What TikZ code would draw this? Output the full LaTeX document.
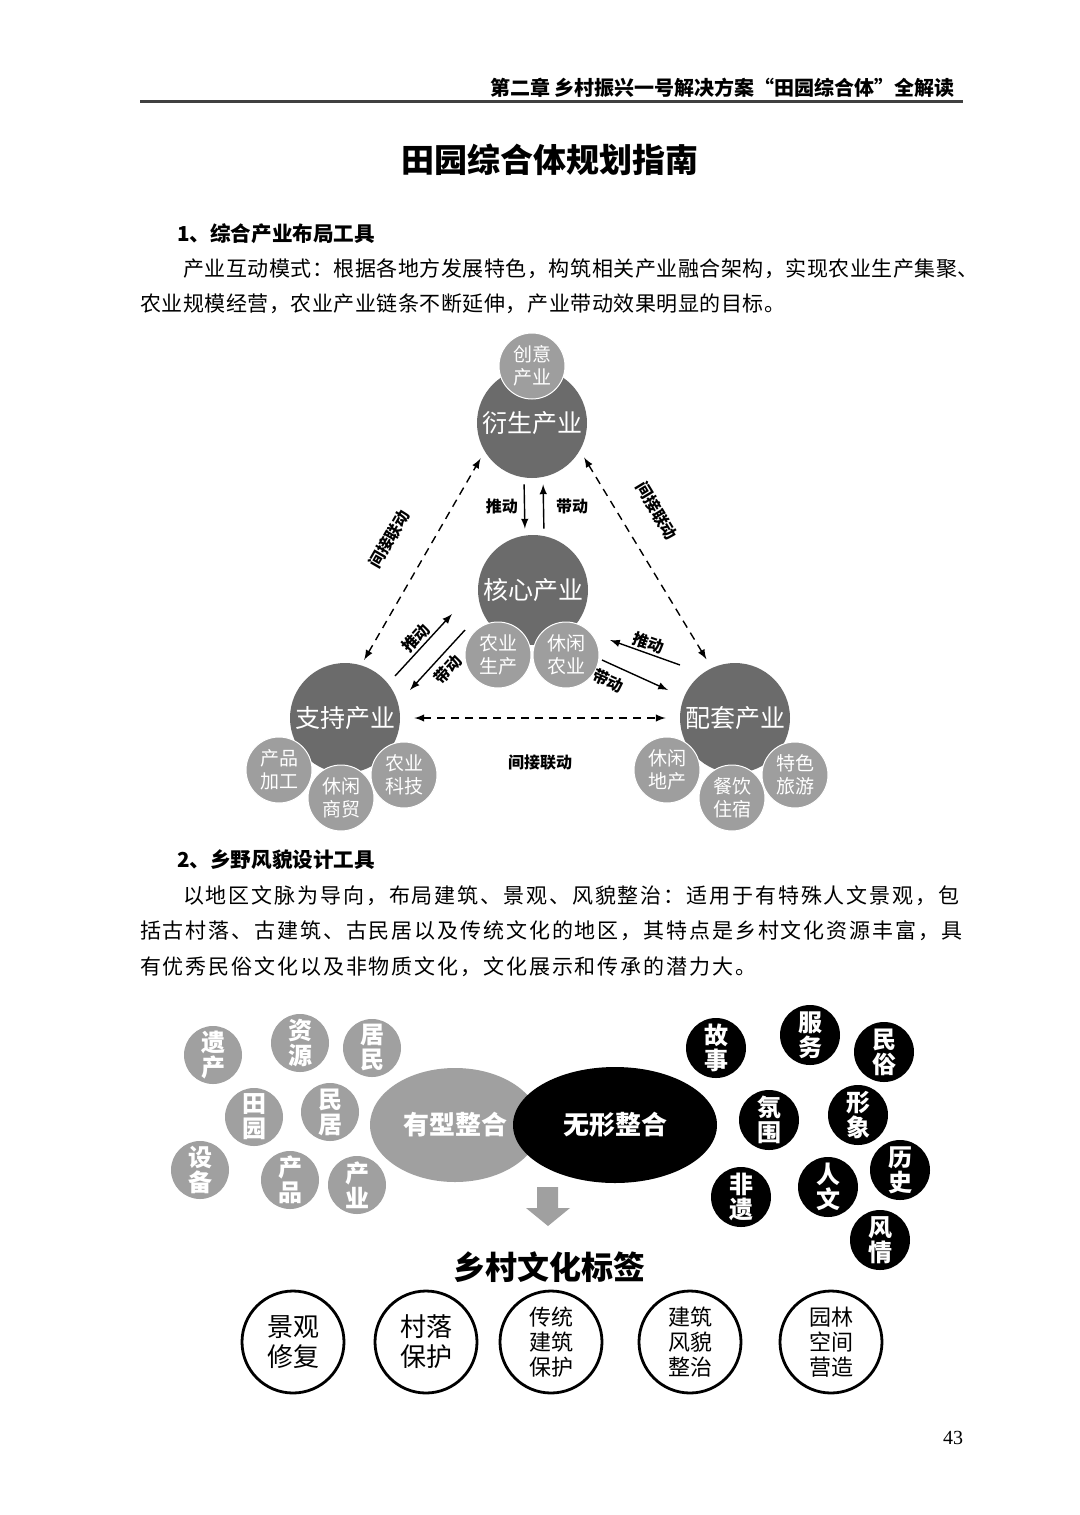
\documentclass[tikz,border=0pt]{standalone}
\usepackage{fontspec}
\setmainfont{Noto Sans CJK SC}
\newfontfamily\bodyA[LetterSpace=2.5]{Noto Sans CJK SC}
\newfontfamily\bodyB[LetterSpace=9]{Noto Sans CJK SC}
\newfontfamily\numfont{Liberation Serif}
\usepackage{tikz}
\usetikzlibrary{positioning, arrows.meta, shapes.geometric}
\definecolor{bigc}{HTML}{6B6B6B}
\definecolor{smallc}{HTML}{9E9E9E}
\definecolor{tagg}{HTML}{A0A0A0}
\newcommand{\fsz}[2]{\fontsize{#1}{#2}\selectfont}

\begin{document}
\begin{tikzpicture}[x=0.5pt, y=-0.5pt, >=latex]
    % Stili
    \tikzstyle{big} = [circle, fill=bigc, minimum size=55pt, inner sep=0pt, text=white, font=\fsz{12.5}{14}]
    \tikzstyle{small} = [circle, fill=smallc, draw=white, line width=0.5pt, minimum size=33pt, inner sep=0pt, text=white, align=center, font=\fsz{9.5}{11.5}]
    \tikzstyle{lab} = [font=\bfseries\fsz{8}{9}, inner sep=1pt]
    \tikzstyle{ell} = [ellipse, minimum width=85pt, minimum height=57pt, inner sep=0pt, text=white, font=\bfseries\fsz{13}{14}]
    \tikzstyle{gdot} = [circle, fill=tagg, minimum size=29pt, inner sep=0pt, text=white, align=center, font=\bfseries\fsz{12}{12.5}]
    \tikzstyle{bdot} = [circle, fill=black, minimum size=30pt, inner sep=0pt, text=white, align=center, font=\bfseries\fsz{12}{12.5}]
    \tikzstyle{tag} = [circle, draw, line width=1.4pt, minimum size=51pt, inner sep=0pt, align=center]

    \fill[white] (0,0) rectangle (1080,1515);
    \useasboundingbox (0,0) rectangle (1080,1515);

    % Testata
    \node[anchor=east, font=\bfseries\fsz{10}{12}] (header) at (962,88) {第二章\ 乡村振兴一号解决方案“田园综合体”全解读};
    \draw[line width=1.5pt, black!75] (140,101) -- (963,101);
    \node[font=\bfseries\fsz{16.5}{18}] (title) at (550,160) {田园综合体规划指南};

    % Testo 1
    \node[anchor=west, font=\bfseries\fsz{10.3}{12}] (sec1) at (170,234) {1、综合产业布局工具};
    \node[anchor=west, font=\bodyA\fsz{10.5}{12}] (p1a) at (176,269) {产业互动模式：根据各地方发展特色，构筑相关产业融合架构，实现农业生产集聚、};
    \node[anchor=west, font=\bodyA\fsz{10.5}{12}] (p1b) at (133,304) {农业规模经营，农业产业链条不断延伸，产业带动效果明显的目标。};

    % Cerchi
    \node[big] (yansheng) at (532,423) {衍生产业};
    \node[small] (chuangyi) at (532,366) {创意\\产业};
    \node[big] (hexin) at (533,590) {核心产业};
    \node[small] (nongye) at (498,655) {农业\\生产};
    \node[small] (xiuxian) at (566,655) {休闲\\农业};
    \node[big] (zhichi) at (345,718) {支持产业};
    \node[small] (jiagong) at (279,770) {产品\\加工};
    \node[small] (shangmao) at (341,798) {休闲\\商贸};
    \node[small] (keji) at (404,775) {农业\\科技};
    \node[big] (peitao) at (735,718) {配套产业};
    \node[small] (dichan) at (667,770) {休闲\\地产};
    \node[small] (zhusu) at (732,798) {餐饮\\住宿};
    \node[small] (lvyou) at (795,775) {特色\\旅游};

    % Collegamenti
    \draw[->, line width=0.7pt, shorten <=3pt, shorten >=3pt] ([xshift=-4pt]yansheng.south) -- node[left=2pt, lab] {推动} ([xshift=-4pt]hexin.north);
    \draw[<-, line width=0.7pt, shorten <=3pt, shorten >=3pt] ([xshift=5.5pt]yansheng.south) -- node[right=5pt, lab] {带动} ([xshift=5.5pt]hexin.north);

    \draw[<->, dashed, dash pattern=on 4pt off 3pt, line width=0.7pt, shorten <=3pt, shorten >=4pt] (zhichi.73) -- node[sloped, above=14pt, lab] {间接联动} (yansheng.211);
    \draw[<->, dashed, dash pattern=on 4pt off 3pt, line width=0.7pt, shorten <=4pt, shorten >=5pt] (yansheng.330) -- node[sloped, above=12pt, pos=0.36, lab] {间接联动} (peitao.115);
    \draw[<->, dashed, dash pattern=on 4pt off 3pt, line width=0.7pt, shorten <=7pt, shorten >=7pt] (zhichi.east) -- node[below=17pt, lab] {间接联动} (peitao.west);

    \draw[->, line width=0.7pt] ([shift={(50,-42)}]zhichi.center) -- node[sloped, above, lab] {推动} ([shift={(-81,24)}]hexin.center);
    \draw[<-, line width=0.7pt] ([shift={(65,-28)}]zhichi.center) -- node[sloped, below=2pt, lab] {带动} ([shift={(-68,40)}]hexin.center);
    \draw[<-, line width=0.7pt] ([shift={(77,50)}]hexin.center) -- node[sloped, above, lab] {推动} ([shift={(-55,-53)}]peitao.center);
    \draw[->, line width=0.7pt] ([shift={(69,70)}]hexin.center) -- node[sloped, below=3pt, pos=0.2, lab] {带动} ([shift={(-67,-28)}]peitao.center);

    % Testo 2
    \node[anchor=west, font=\bfseries\fsz{10.3}{12}] (sec2) at (170,860) {2、乡野风貌设计工具};
    \node[anchor=west, font=\bodyB\fsz{10.5}{12}] (p2a) at (176,896) {以地区文脉为导向，布局建筑、景观、风貌整治：适用于有特殊人文景观，包};
    \node[anchor=west, font=\bodyB\fsz{10.5}{12}] (p2b) at (133,931) {括古村落、古建筑、古民居以及传统文化的地区，其特点是乡村文化资源丰富，具};
    \node[anchor=west, font=\bodyB\fsz{10.5}{12}] (p2c) at (133,967) {有优秀民俗文化以及非物质文化，文化展示和传承的潜力大。};

    % Integrazione
    \node[ell, fill=tagg] (youxing) at (455,1125) {有型整合};
    \node[ell, fill=black, minimum width=102pt, minimum height=58pt] (wuxing) at (615,1125) {无形整合};

    \node[gdot] (yichan) at (213,1055) {遗\\产};
    \node[gdot] (ziyuan) at (300,1043) {资\\源};
    \node[gdot] (jumin) at (372,1048) {居\\民};
    \node[gdot] (tianyuan) at (254,1117) {田\\园};
    \node[gdot] (minju) at (330,1112) {民\\居};
    \node[gdot] (shebei) at (200,1170) {设\\备};
    \node[gdot] (chanpin) at (290,1180) {产\\品};
    \node[gdot] (chanye) at (357,1185) {产\\业};

    \node[bdot] (gushi) at (716,1048) {故\\事};
    \node[bdot] (fuwu) at (810,1035) {服\\务};
    \node[bdot] (minsu) at (884,1052) {民\\俗};
    \node[bdot] (fenwei) at (769,1120) {氛\\围};
    \node[bdot] (xingxiang) at (858,1115) {形\\象};
    \node[bdot] (lishi) at (900,1170) {历\\史};
    \node[bdot] (feiyi) at (741,1197) {非\\遗};
    \node[bdot] (renwen) at (828,1187) {人\\文};
    \node[bdot] (fengqing) at (880,1240) {风\\情};

    % Freccia e etichette
    \fill[tagg] (537,1187) -- (558,1187) -- (558,1208) -- (570,1208) -- (548,1226) -- (526,1208) -- (537,1208) -- cycle;
    \node[font=\bfseries\fsz{16}{18}] (biaoqian) at (549,1267) {乡村文化标签};

    \node[tag, font=\fsz{13}{15}] (jingguan) at (293,1342) {景观\\修复};
    \node[tag, font=\fsz{13}{15}] (cunluo) at (426,1342) {村落\\保护};
    \node[tag, font=\fsz{11}{12.5}] (chuantong) at (551,1342) {传统\\建筑\\保护};
    \node[tag, font=\fsz{11}{12.5}] (jianzhu) at (690,1342) {建筑\\风貌\\整治};
    \node[tag, font=\fsz{11}{12.5}] (yuanlin) at (831,1342) {园林\\空间\\营造};

    \node[font=\numfont\fsz{10}{12}] (pagenum) at (953,1438) {43};
\end{tikzpicture}
\end{document}
